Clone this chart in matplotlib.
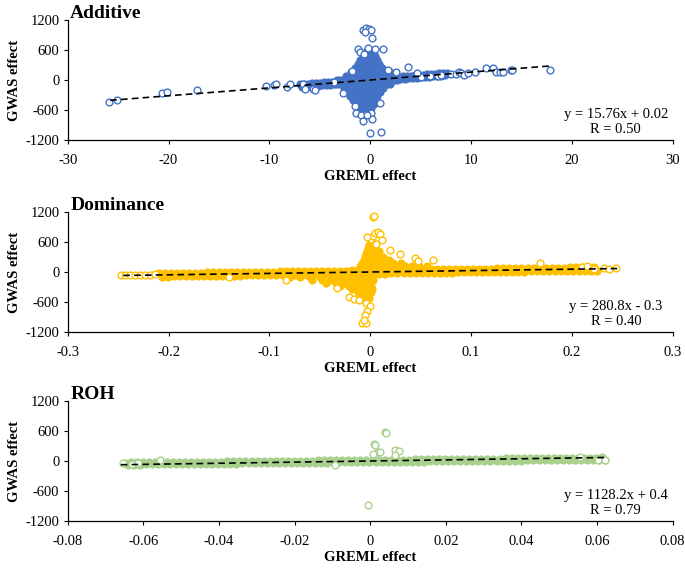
import matplotlib
matplotlib.use('Agg')
import matplotlib.pyplot as plt
import numpy as np

plt.rcParams['font.family'] = ['Liberation Serif', 'DejaVu Serif']

# ---------------- Additive ----------------
# dense cloud, read as rows of GWAS value -> GREML values
add_blob = [
    (560, [-0.4, -0.1, 0.2]),
    (480, [-0.7, -0.4, -0.1, 0.2, 0.5]),
    (400, [-1.0, -0.7, -0.4, -0.1, 0.2, 0.5, 0.7]),
    (320, [-1.2, -0.9, -0.6, -0.3, 0.0, 0.3, 0.6, 0.9]),
    (240, [-1.5, -1.2, -0.9, -0.6, -0.3, 0.0, 0.3, 0.6, 0.9, 1.2]),
    (160, [-1.9, -1.6, -1.3, -1.0, -0.7, -0.4, -0.1, 0.2, 0.5, 0.8, 1.1, 1.4, 1.7, 2.0]),
    (80, [-2.4, -2.1, -1.8, -1.5, -1.2, -0.9, -0.6, -0.3, 0.0, 0.3, 0.6, 0.9, 1.2, 1.5,
          1.8, 2.1, 2.4, 2.7]),
    (0, [-3.3, -3.0, -2.7, -2.4, -2.1, -1.8, -1.5, -1.2, -0.9, -0.6, -0.3, 0.0, 0.3, 0.6,
         0.9, 1.2, 1.5, 1.8, 2.1, 2.4, 2.7]),
    (-80, [-3.4, -3.1, -2.8, -2.5, -2.2, -1.9, -1.6, -1.3, -1.0, -0.7, -0.4, -0.1, 0.2, 0.5,
           0.8, 1.1, 1.4, 1.7, 2.0]),
    (-160, [-2.6, -2.3, -2.0, -1.7, -1.4, -1.1, -0.8, -0.5, -0.2, 0.1, 0.4, 0.7, 1.0, 1.3]),
    (-240, [-2.3, -2.0, -1.7, -1.4, -1.1, -0.8, -0.5, -0.2, 0.1, 0.4, 0.7, 1.0]),
    (-320, [-2.0, -1.7, -1.4, -1.1, -0.8, -0.5, -0.2, 0.1, 0.4, 0.7]),
    (-400, [-1.7, -1.4, -1.1, -0.8, -0.5, -0.2, 0.1, 0.4, 0.6]),
    (-480, [-1.4, -1.1, -0.8, -0.5, -0.2, 0.1, 0.4]),
    (-560, [-1.0, -0.7, -0.4, -0.1, 0.1]),
]
add_band_x = [-7.0, -6.6, -6.2, -5.8, -5.4, -5.0, -4.6, -4.2, -3.8,
              -6.8, -6.4, -6.0, -5.6, -5.2, -4.8, -4.4, -4.0, -3.6,
              2.8, 3.2, 3.6, 4.0, 4.4, 4.8, 5.2, 5.6, 6.0, 6.4, 6.8, 7.2, 7.6,
              3.0, 3.4, 3.8, 4.2, 4.6, 5.0, 5.4, 5.8, 6.2, 6.6, 7.0, 7.4]
add_band_y = [-85, -79, -73, -66, -60, -54, -47, -41, -35,
              -137, -131, -125, -118, -112, -106, -99, -93, -87,
              69, 75, 82, 88, 94, 101, 107, 113, 120, 126, 132, 138, 145,
              22, 29, 35, 41, 47, 54, 60, 66, 73, 79, 85, 92]
add_out_x = [-25.9, -25.1, -20.7, -20.2, -17.2, -10.3, -9.5, -9.3, -8.3, -8.0, -6.7, -6.5, -5.7, -5.5,
             3.7, 5.0, 5.9, 6.7, 7.0, 8.0, 8.5, 8.8, 9.0, 9.3, 9.7, 10.4, 11.5, 12.2, 12.5, 12.9,
             13.2, 14.0, 14.1, 17.8,
             -0.7, -0.4, -0.1, 0.1, -0.5, 0.2,
             -1.2, -1.0, -0.2, 0.5, 1.3, -0.6, -1.8, 4.6,
             -1.4, -0.9, -0.7, 0.1, 0.2, 1.0, 0.0, 1.1, -1.5, -0.3, -2.7, 2.6, 1.8, -3.6]
add_out_y = [-440, -400, -253, -233, -200, -120, -100, -87, -140, -87, -73, -187, -187, -200,
             267, 60, 90, 80, 110, 120, 120, 170, 150, 100, 140, 167, 233, 247, 167, 167,
             167, 200, 210, 200,
             1000, 1030, 1020, 990, 960, 830,
             620, 560, 640, 620, 620, 520, 180, 147,
             -660, -700, -820, -660, -780, -460, -1060, -1030, -520, -700, -260, 170, 200, -40]

# ---------------- Dominance ----------------
dom_row_a_x = [-0.210, -0.204, -0.198, -0.192, -0.186, -0.180, -0.174, -0.168, -0.162, -0.156,
               -0.150, -0.144, -0.138, -0.132, -0.126, -0.120, -0.114, -0.108, -0.102, -0.096,
               -0.090, -0.084, -0.078, -0.072, -0.066, -0.060, -0.054, -0.048, -0.042, -0.036,
               -0.030, -0.024, -0.018, -0.012, -0.006, 0.000, 0.006, 0.012, 0.018, 0.024,
               0.030, 0.036, 0.042, 0.048, 0.054, 0.060, 0.066, 0.072, 0.078, 0.084,
               0.090, 0.096, 0.102, 0.108, 0.114, 0.120, 0.126, 0.132, 0.138, 0.144,
               0.150, 0.156, 0.162, 0.168, 0.174, 0.180, 0.186, 0.192, 0.198, 0.204,
               0.210, 0.216, 0.222]
dom_row_a_y = [-24, -22, -21, -19, -17, -16, -14, -12, -10, -9,
               -7, -5, -4, -2, 0, 1, 3, 5, 6, 8,
               10, 11, 13, 15, 16, 18, 20, 22, 23, 25,
               27, 28, 30, 32, 33, 35, 37, 38, 40, 42,
               43, 45, 47, 48, 50, 52, 54, 55, 57, 59,
               60, 62, 64, 65, 67, 69, 70, 72, 74, 75,
               77, 79, 80, 82, 84, 86, 87, 89, 91, 92,
               94, 96, 97]
dom_row_b_x = [-0.207, -0.201, -0.195, -0.189, -0.183, -0.177, -0.171, -0.165, -0.159, -0.153,
               -0.147, -0.141, -0.135, -0.129, -0.123, -0.117, -0.111, -0.105, -0.099, -0.093,
               -0.087, -0.081, -0.075, -0.069, -0.063, -0.057, -0.051, -0.045, -0.039, -0.033,
               -0.027, -0.021, -0.015, -0.009, -0.003, 0.003, 0.009, 0.015, 0.021, 0.027,
               0.033, 0.039, 0.045, 0.051, 0.057, 0.063, 0.069, 0.075, 0.081, 0.087,
               0.093, 0.099, 0.105, 0.111, 0.117, 0.123, 0.129, 0.135, 0.141, 0.147,
               0.153, 0.159, 0.165, 0.171, 0.177, 0.183, 0.189, 0.195, 0.201, 0.207,
               0.213, 0.219, 0.225]
dom_row_b_y = [-93, -91, -90, -88, -86, -85, -83, -81, -79, -78,
               -76, -74, -73, -71, -69, -68, -66, -64, -63, -61,
               -59, -58, -56, -54, -53, -51, -49, -47, -46, -44,
               -42, -41, -39, -37, -36, -34, -32, -31, -29, -27,
               -26, -24, -22, -21, -19, -17, -15, -14, -12, -10,
               -9, -7, -5, -4, -2, 0, 1, 3, 5, 6,
               8, 10, 11, 13, 15, 17, 18, 20, 22, 23,
               25, 27, 28]
dom_blob = [
    (590, [0.002]),
    (530, [-0.001, 0.005]),
    (470, [-0.002, 0.004]),
    (410, [-0.003, 0.003, 0.009]),
    (350, [-0.004, 0.002, 0.008]),
    (290, [-0.005, 0.001, 0.007, 0.013]),
    (230, [-0.006, 0.000, 0.006, 0.012, 0.019]),
    (170, [-0.008, -0.002, 0.004, 0.010, 0.016, 0.023, 0.031]),
    (110, [-0.010, -0.004, 0.002, 0.008, 0.014, 0.020, 0.027, 0.034, 0.041, 0.048, 0.056]),
    (-110, [-0.080, -0.070, -0.060, -0.050, -0.040, -0.031, -0.022, -0.014, -0.006, 0.002]),
    (-170, [-0.058, -0.048, -0.038, -0.029, -0.020, -0.012, -0.004, 0.003]),
    (-230, [-0.044, -0.034, -0.025, -0.016, -0.008, -0.001]),
    (-290, [-0.030, -0.021, -0.013, -0.005, 0.001]),
    (-350, [-0.018, -0.010, -0.003, 0.002]),
    (-410, [-0.012, -0.005, 0.001]),
    (-470, [-0.008, -0.002]),
    (-530, [-0.006, -0.001]),
    (-590, [-0.004]),
]
dom_out_x = [-0.247, -0.243, -0.238, -0.233, -0.228, -0.223, -0.218, -0.214,
             0.003, 0.004, 0.001, 0.003, -0.003, 0.005, 0.008, 0.010, 0.012, 0.006,
             0.020, 0.030, 0.044, 0.047, 0.062, 0.168, 0.210, 0.215, 0.222, 0.232, 0.237, 0.244,
             -0.033, -0.021, -0.016, -0.011, -0.004, 0.000, -0.003, -0.005, -0.008, -0.004,
             -0.006, -0.084, -0.140]
dom_out_y = [-62, -66, -58, -60, -55, -62, -52, -48,
             1090, 1120, 650, 710, 690, 780, 790, 760, 640, 560,
             440, 360, 270, 220, 240, 180, 100, 110, 60, 70, 60, 70,
             -320, -500, -540, -560, -620, -680, -790, -860, -1030, -1020,
             -960, -170, -100]

# ---------------- ROH ----------------
roh_row_a_x = [-0.0650, -0.0634, -0.0618, -0.0602, -0.0586, -0.0570, -0.0554, -0.0538, -0.0522, -0.0506,
               -0.0490, -0.0474, -0.0458, -0.0442, -0.0426, -0.0410, -0.0394, -0.0378, -0.0362, -0.0346,
               -0.0330, -0.0314, -0.0298, -0.0282, -0.0266, -0.0250, -0.0234, -0.0218, -0.0202, -0.0186,
               -0.0170, -0.0154, -0.0138, -0.0122, -0.0106, -0.0090, -0.0074, -0.0058, -0.0042, -0.0026,
               -0.0010, 0.0006, 0.0022, 0.0038, 0.0054, 0.0070, 0.0086, 0.0102, 0.0118, 0.0134,
               0.0150, 0.0166, 0.0182, 0.0198, 0.0214, 0.0230, 0.0246, 0.0262, 0.0278, 0.0294,
               0.0310, 0.0326, 0.0342, 0.0358, 0.0374, 0.0390, 0.0406, 0.0422, 0.0438, 0.0454,
               0.0470, 0.0486, 0.0502, 0.0518, 0.0534, 0.0550, 0.0566, 0.0582, 0.0598, 0.0614]
roh_row_a_y = [-30, -29, -27, -26, -25, -24, -22, -21, -20, -18,
               -17, -16, -15, -13, -12, -11, -10, -8, -7, -6,
               -4, -3, -2, -1, 1, 2, 3, 5, 6, 7,
               8, 10, 11, 12, 14, 15, 16, 17, 19, 20,
               21, 22, 24, 25, 26, 28, 29, 30, 31, 33,
               34, 35, 37, 38, 39, 40, 42, 43, 44, 46,
               47, 48, 49, 51, 52, 53, 54, 56, 57, 58,
               60, 61, 62, 63, 65, 66, 67, 69, 70, 71]
roh_row_b_x = [-0.0642, -0.0626, -0.0610, -0.0594, -0.0578, -0.0562, -0.0546, -0.0530, -0.0514, -0.0498,
               -0.0482, -0.0466, -0.0450, -0.0434, -0.0418, -0.0402, -0.0386, -0.0370, -0.0354, -0.0338,
               -0.0322, -0.0306, -0.0290, -0.0274, -0.0258, -0.0242, -0.0226, -0.0210, -0.0194, -0.0178,
               -0.0162, -0.0146, -0.0130, -0.0114, -0.0098, -0.0082, -0.0066, -0.0050, -0.0034, -0.0018,
               -0.0002, 0.0014, 0.0030, 0.0046, 0.0062, 0.0078, 0.0094, 0.0110, 0.0126, 0.0142,
               0.0158, 0.0174, 0.0190, 0.0206, 0.0222, 0.0238, 0.0254, 0.0270, 0.0286, 0.0302,
               0.0318, 0.0334, 0.0350, 0.0366, 0.0382, 0.0398, 0.0414, 0.0430, 0.0446, 0.0462,
               0.0478, 0.0494, 0.0510, 0.0526, 0.0542, 0.0558, 0.0574, 0.0590, 0.0606, 0.0622]
roh_row_b_y = [-73, -72, -70, -69, -68, -67, -65, -64, -63, -61,
               -60, -59, -58, -56, -55, -54, -53, -51, -50, -49,
               -47, -46, -45, -44, -42, -41, -40, -38, -37, -36,
               -35, -33, -32, -31, -29, -28, -27, -26, -24, -23,
               -22, -21, -19, -18, -17, -15, -14, -13, -12, -10,
               -9, -8, -6, -5, -4, -3, -1, 0, 1, 3,
               4, 5, 6, 8, 9, 10, 11, 13, 14, 15,
               17, 18, 19, 20, 22, 23, 24, 26, 27, 28]
roh_out_x = [0.0040, 0.0043, 0.0010, 0.0013, 0.0020, 0.0027, 0.0066, 0.0075, 0.0007, 0.0065,
             -0.0006, -0.0655, -0.0630, -0.0615, -0.0557, 0.0555, 0.0620, 0.0603, -0.0092]
roh_out_y = [590, 560, 350, 325, 190, 175, 220, 200, 135, 130,
             -870, -45, -58, -42, 12, 90, 30, 22, -85]

titles = ['Additive', 'Dominance', 'ROH']
colors = ['#4472C4', '#FFC000', '#A9D18E']
fit_slope = [15.76, 280.8, 1128.2]
fit_icpt = [0.02, -0.3, 0.4]
fit_range = [(-25.8, 17.8), (-0.245, 0.245), (-0.066, 0.062)]
eq_text = ['y = 15.76x + 0.02\nR = 0.50', 'y = 280.8x - 0.3\nR = 0.40', 'y = 1128.2x + 0.4\nR = 0.79']
xticks = [[-30, -20, -10, 0, 10, 20, 30],
          [-0.3, -0.2, -0.1, 0, 0.1, 0.2, 0.3],
          [-0.08, -0.06, -0.04, -0.02, 0, 0.02, 0.04, 0.06, 0.08]]
xticklabels = [['-30', '-20', '-10', '0', '10', '20', '30'],
               ['-0.3', '-0.2', '-0.1', '0', '0.1', '0.2', '0.3'],
               ['-0.08', '-0.06', '-0.04', '-0.02', '0', '0.02', '0.04', '0.06', '0.08']]
yticks = [-1200, -600, 0, 600, 1200]
yticklabels = ['-1200', '-600', '0', '600', '1200']


def rows_to_xy(rows):
    xs, ys = [], []
    for y, row in rows:
        for x in row:
            xs.append(x)
            ys.append(y)
    return xs, ys


# dense (overlapping) points and the sparse ones around them
bx, by = rows_to_xy(add_blob)
add_core = (bx + add_band_x, by + add_band_y)
bx, by = rows_to_xy(dom_blob)
dom_core = (dom_row_a_x + dom_row_b_x + bx, dom_row_a_y + dom_row_b_y + by)
roh_core = (roh_row_a_x + roh_row_b_x, roh_row_a_y + roh_row_b_y)
cores = [add_core, dom_core, roh_core]
outs = [(add_out_x, add_out_y), (dom_out_x, dom_out_y), (roh_out_x, roh_out_y)]

fig = plt.figure(figsize=(6.85, 5.68), dpi=100)
positions = [[0.099, 0.7535, 0.883, 0.2113],
             [0.099, 0.4155, 0.883, 0.2113],
             [0.099, 0.0827, 0.883, 0.2113]]

for i in range(3):
    ax = fig.add_axes(positions[i])
    cx, cy = cores[i]
    ox, oy = outs[i]
    # where hundreds of rings overlap the cloud reads as solid colour
    ax.scatter(cx, cy, s=24, facecolors=colors[i], edgecolors=colors[i], linewidths=1.0, zorder=2)
    ax.scatter(ox, oy, s=24, facecolors='white', edgecolors=colors[i], linewidths=1.0, zorder=2)
    fx = np.array(fit_range[i])
    ax.plot(fx, fit_slope[i] * fx + fit_icpt[i], color='black', lw=1.2, dashes=(4, 2.5), zorder=3)
    ax.set_xlim(xticks[i][0], xticks[i][-1])
    ax.set_ylim(-1200, 1200)
    ax.set_xticks(xticks[i])
    ax.set_xticklabels(xticklabels[i])
    ax.set_yticks(yticks)
    ax.set_yticklabels(yticklabels)
    ax.tick_params(direction='out', length=3, width=0.8, labelsize=10.5, colors='black')
    ax.tick_params(axis='x', pad=7)
    ax.tick_params(axis='y', pad=3)
    for s in ['top', 'right']:
        ax.spines[s].set_visible(False)
    for s in ['left', 'bottom']:
        ax.spines[s].set_linewidth(0.9)
    ax.set_xlabel('GREML effect', fontsize=10.5, fontweight='bold')
    ax.xaxis.set_label_coords(0.5, -0.25)
    ax.set_ylabel('GWAS effect', fontsize=10.5, fontweight='bold')
    ax.yaxis.set_label_coords(-0.078, 0.5)
    ax.text(0.004, 1.02, titles[i], transform=ax.transAxes, fontsize=14,
            fontweight='bold', va='baseline', ha='left')
    ax.text(0.906, 0.15, eq_text[i], transform=ax.transAxes, fontsize=10.5,
            ha='center', va='center', multialignment='center', linespacing=1.15)

fig.savefig('out.png', dpi=100)
